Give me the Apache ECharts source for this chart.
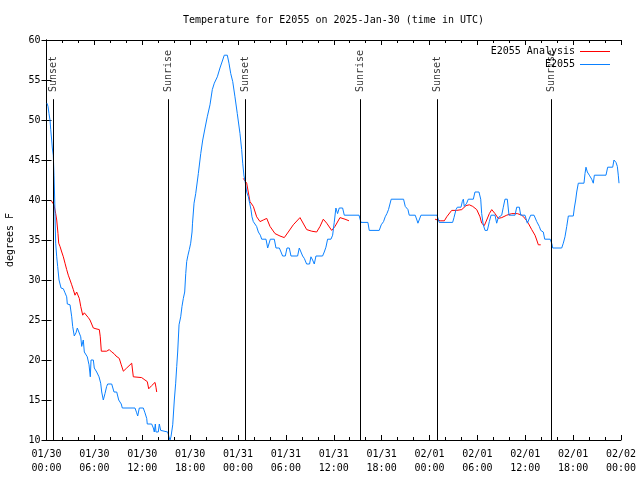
<!DOCTYPE html>
<html>
<head>
<meta charset="utf-8">
<script src="https://cdn.jsdelivr.net/npm/echarts@6/dist/echarts.min.js"></script>
<style>html,body{margin:0;padding:0;background:#fff}#c{width:640px;height:480px}</style>
</head>
<body>
<div id="c"></div>
<script>
// Hours since 2025-01-30 00:00 UTC
const xTickLabels = ['01/30\n00:00','01/30\n06:00','01/30\n12:00','01/30\n18:00','01/31\n00:00','01/31\n06:00','01/31\n12:00','01/31\n18:00','02/01\n00:00','02/01\n06:00','02/01\n12:00','02/01\n18:00','02/02\n00:00'];
const sunHours = [0.85, 15.27, 24.97, 39.35, 48.98, 63.23];
const sunNames = ['Sunset','Sunrise','Sunset','Sunrise','Sunset','Sunrise'];

const observed = [[0.06,52.1],[0.19,51.7],[0.31,50.8],[0.44,50.0],[0.53,48.8],[0.65,47.5],[0.73,46.5],[0.85,45.6],[0.94,43.1],[1.03,40.0],[1.07,37.9],[1.15,34.6],[1.28,32.9],[1.40,31.7],[1.57,30.0],[1.82,29.0],[2.11,28.9],[2.32,28.4],[2.53,27.9],[2.61,27.0],[2.95,26.9],[3.16,25.4],[3.28,24.2],[3.48,23.0],[3.70,23.4],[3.86,24.0],[4.11,24.0],[4.29,22.9],[4.41,21.7],[4.61,22.5],[4.74,21.0],[4.91,20.9],[5.11,20.4],[5.33,19.4],[5.49,17.9],[5.58,20.0],[5.87,20.0],[5.99,19.0],[6.29,18.5],[6.58,17.9],[6.79,17.1],[6.92,16.0],[7.12,15.0],[7.33,15.8],[7.54,16.7],[7.67,17.0],[8.17,17.0],[8.46,16.0],[8.80,16.0],[9.05,15.0],[9.37,14.5],[9.50,14.0],[11.09,14.0],[11.30,13.4],[11.43,13.0],[11.63,14.0],[12.13,14.0],[12.34,13.4],[12.56,12.7],[12.63,12.0],[13.18,12.0],[13.39,11.5],[13.51,11.0],[13.64,12.0],[13.72,11.0],[14.01,11.0],[14.14,12.0],[14.31,11.2],[14.44,11.0],[15.19,11.0],[15.35,10.4],[15.48,10.0],[15.60,10.4],[15.82,11.9],[16.02,15.0],[16.19,17.1],[16.32,19.2],[16.44,21.0],[16.61,24.4],[16.82,25.4],[16.98,26.7],[17.15,27.7],[17.32,28.5],[17.45,30.8],[17.57,32.3],[17.73,33.1],[17.90,33.8],[18.07,34.6],[18.24,36.0],[18.30,37.1],[18.49,39.6],[18.70,40.8],[19.03,43.3],[19.33,45.8],[19.58,47.5],[19.87,49.0],[20.15,50.4],[20.49,51.9],[20.78,53.8],[21.03,54.6],[21.41,55.4],[21.74,56.5],[22.08,57.5],[22.28,58.1],[22.66,58.1],[22.87,57.1],[23.09,55.8],[23.34,54.8],[23.62,52.9],[23.91,50.8],[24.25,48.3],[24.46,46.3],[24.59,44.6],[24.75,43.0],[24.88,42.4],[25.09,41.0],[25.30,40.4],[25.46,39.6],[25.63,38.8],[25.75,37.9],[25.92,37.3],[26.13,37.1],[26.33,36.7],[26.55,36.0],[26.80,35.6],[26.97,35.1],[27.51,35.1],[27.72,34.0],[27.93,34.0],[28.05,35.1],[28.55,35.1],[28.76,34.0],[29.18,34.0],[29.39,33.5],[29.59,33.0],[29.93,33.0],[30.14,34.0],[30.43,34.0],[30.64,33.0],[31.47,33.0],[31.68,34.0],[31.89,33.5],[32.10,33.0],[32.31,32.7],[32.60,32.0],[32.97,32.0],[33.14,32.9],[33.35,32.5],[33.56,32.0],[33.77,33.0],[34.60,33.0],[34.81,33.5],[35.02,34.1],[35.23,35.1],[35.65,35.1],[35.86,35.6],[36.06,37.2],[36.27,39.0],[36.48,38.3],[36.69,39.0],[37.11,39.0],[37.32,38.1],[39.17,38.1],[39.41,37.2],[40.28,37.2],[40.45,36.2],[41.70,36.2],[41.95,36.9],[42.24,37.3],[42.45,37.9],[42.66,38.3],[42.86,38.8],[43.20,40.1],[44.75,40.1],[44.96,39.2],[45.30,38.8],[45.46,38.1],[46.21,38.1],[46.42,37.5],[46.55,37.1],[46.72,37.1],[46.93,38.1],[48.94,38.1],[49.22,37.2],[50.90,37.2],[51.07,37.8],[51.32,38.8],[51.49,39.1],[51.95,39.1],[52.11,39.8],[52.24,40.1],[52.36,39.2],[52.66,39.6],[52.86,40.1],[53.49,40.1],[53.70,41.0],[54.20,41.0],[54.42,40.1],[54.54,38.3],[54.74,36.9],[54.96,36.2],[55.25,36.2],[55.50,37.3],[55.71,38.1],[56.21,38.1],[56.42,37.1],[56.62,37.8],[57.05,38.1],[57.25,39.1],[57.46,40.1],[57.75,40.1],[57.96,38.1],[58.72,38.1],[58.93,39.1],[59.26,39.1],[59.43,38.1],[59.97,38.1],[60.26,37.1],[60.51,37.1],[60.68,38.1],[61.10,38.1],[61.44,37.3],[61.76,36.7],[61.94,36.2],[62.26,36.0],[62.44,35.1],[63.13,35.1],[63.34,34.5],[63.44,34.0],[64.57,34.0],[64.77,34.6],[64.98,35.4],[65.20,36.7],[65.40,38.0],[66.02,38.0],[66.15,39.0],[66.32,40.0],[66.45,41.0],[66.65,42.1],[67.36,42.1],[67.49,43.3],[67.61,44.1],[67.78,43.5],[68.03,43.1],[68.33,42.6],[68.53,42.1],[68.66,43.1],[70.12,43.1],[70.33,44.1],[70.96,44.1],[71.12,45.0],[71.37,44.7],[71.54,44.2],[71.66,43.1],[71.75,42.1]];

const analysis1 = [[0.60,39.9],[0.94,39.4],[1.15,38.3],[1.28,37.5],[1.44,35.8],[1.53,34.6],[1.69,34.2],[1.91,33.5],[2.11,32.9],[2.32,32.1],[2.53,31.3],[2.73,30.6],[2.95,30.0],[3.16,29.4],[3.36,28.8],[3.57,28.1],[3.78,28.5],[3.91,28.5],[4.11,27.7],[4.29,26.7],[4.54,25.6],[4.74,25.9],[4.95,25.8],[5.24,25.3],[5.45,25.0],[5.66,24.5],[5.87,24.0],[6.20,23.9],[6.62,23.8],[6.74,22.9],[6.87,21.1],[7.54,21.1],[7.87,21.3],[8.17,21.0],[8.46,20.8],[8.71,20.5],[8.92,20.7],[9.12,20.2],[9.37,19.4],[9.63,18.6],[10.05,19.0],[10.68,19.6],[10.88,17.9],[11.93,17.8],[12.34,17.5],[12.63,17.3],[12.81,16.4],[13.18,16.8],[13.60,17.2],[13.72,16.6],[13.81,16.0]];
const analysis2 = [[24.66,42.7],[25.09,42.1],[25.50,39.8],[25.92,39.2],[26.34,37.9],[26.76,37.3],[27.17,37.5],[27.60,37.7],[28.01,36.7],[28.64,35.8],[29.26,35.5],[29.80,35.3],[30.30,36.0],[30.93,36.9],[31.77,37.8],[32.61,36.3],[33.24,36.1],[33.86,36.0],[34.28,36.7],[34.69,37.6],[35.12,37.1],[35.74,36.2],[36.16,36.7],[36.78,37.8],[37.41,37.6],[37.91,37.4]];
const analysis3 = [[48.70,37.6],[49.33,37.4],[49.86,37.4],[50.16,37.9],[50.36,38.1],[50.78,38.7],[51.41,38.7],[52.04,38.8],[52.58,39.3],[52.99,39.4],[53.42,39.2],[53.92,38.8],[54.33,37.9],[54.54,37.1],[54.87,36.8],[55.17,37.5],[55.50,38.3],[55.80,38.8],[56.21,38.3],[56.62,37.7],[57.05,37.8],[57.68,38.1],[58.30,38.3],[59.01,38.3],[59.56,38.1],[59.97,37.7],[60.38,37.1],[60.81,36.3],[61.22,35.6],[61.44,35.0],[61.64,34.4],[61.94,34.4]];

const FONT = '"DejaVu Sans Mono", "Liberation Mono", monospace';
const analysisData = analysis1.concat([[14.5, null]], analysis2, [[38.5, null]], analysis3);
const sunTop = 52.6, sunLabelY = 53.5;

const axisCommon = {
  type: 'value', min: 0, max: 72, interval: 6,
  axisLine: { show: true, lineStyle: { color: '#000', width: 1 } },
  axisTick: { show: true, inside: true, length: 5, lineStyle: { color: '#000' } },
  minorTick: { show: true, splitNumber: 3, length: 3, lineStyle: { color: '#000' } },
  splitLine: { show: false }
};
const yCommon = {
  type: 'value', min: 10, max: 60, interval: 5,
  axisLine: { show: true, lineStyle: { color: '#000', width: 1 } },
  axisTick: { show: true, inside: true, length: 5, lineStyle: { color: '#000' } },
  splitLine: { show: false }
};

const chart = echarts.init(document.getElementById('c'), null, { renderer: 'canvas' });
chart.setOption({
  animation: false,
  backgroundColor: '#fff',
  title: {
    text: 'Temperature for E2055 on 2025-Jan-30 (time in UTC)',
    left: 178, top: 10,
    textStyle: { fontFamily: FONT, fontSize: 10, fontWeight: 'normal', color: '#000' }
  },
  legend: {
    data: ['E2055 Analysis', 'E2055'],
    orient: 'vertical', right: 25, top: 40, align: 'right',
    itemWidth: 30, itemHeight: 13, itemGap: 0, icon: 'path://M0,6 L30,6 L30,7 L0,7 Z',
    textStyle: { fontFamily: FONT, fontSize: 10, color: '#000', lineHeight: 13 }
  },
  grid: { left: 46.5, right: 19, top: 40, bottom: 40, containLabel: false, outerBoundsMode: 'none' },
  xAxis: [
    Object.assign({}, axisCommon, {
      position: 'bottom',
      axisLabel: { show: true, margin: 7, fontFamily: FONT, fontSize: 10, color: '#000', lineHeight: 14,
        formatter: v => xTickLabels[Math.round(v / 6)] }
    }),
    Object.assign({}, axisCommon, { position: 'top', axisLabel: { show: false } })
  ],
  yAxis: [
    Object.assign({}, yCommon, {
      position: 'left',
      name: 'degrees F', nameLocation: 'middle', nameGap: 31, nameRotate: 90,
      nameTextStyle: { fontFamily: FONT, fontSize: 10, color: '#000' },
      axisLabel: { show: true, margin: 6, fontFamily: FONT, fontSize: 10, color: '#000' }
    }),
    Object.assign({}, yCommon, { position: 'right', axisLabel: { show: false } })
  ],
  series: [
    {
      name: 'sun', type: 'line', data: [], silent: true,
      markLine: {
        silent: true, symbol: 'none', animation: false,
        lineStyle: { color: '#000', width: 1, type: 'solid' },
        label: { show: false },
        data: sunHours.map(h => [{ coord: [h, 10] }, { coord: [h, sunTop] }])
      }
    },
    {
      name: 'sunLabels', type: 'scatter', symbolSize: 0, silent: true,
      data: sunHours.map((h, i) => ({ value: [h, sunLabelY], name: sunNames[i] })),
      label: {
        show: true, position: 'inside', rotate: 90, align: 'left', verticalAlign: 'middle',
        formatter: p => p.name, fontFamily: FONT, fontSize: 10, color: '#000'
      }
    },
    {
      name: 'E2055 Analysis', type: 'line', data: analysisData, showSymbol: false, symbol: 'none',
      connectNulls: false, lineStyle: { color: '#ff0000', width: 1 }, itemStyle: { color: '#ff0000' }
    },
    {
      name: 'E2055', type: 'line', data: observed, showSymbol: false, symbol: 'none',
      lineStyle: { color: '#0a80ff', width: 1 }, itemStyle: { color: '#0a80ff' }
    }
  ]
});
</script>
</body>
</html>
